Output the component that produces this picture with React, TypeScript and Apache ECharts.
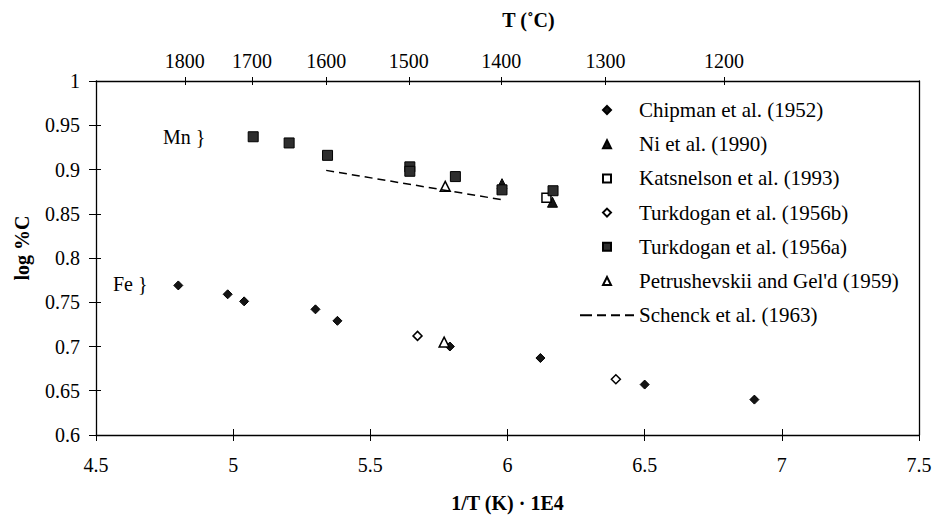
import React, { useEffect, useRef } from "react";
import * as echarts from "echarts";

// ---- data (x = 1/T(K)·1E4, y = log %C) ----
const chipman: number[][] = [
  [4.80, 0.769], [4.98, 0.759], [5.04, 0.751], [5.30, 0.742], [5.38, 0.729],
  [5.79, 0.700], [6.12, 0.687], [6.50, 0.657], [6.90, 0.640],
];
const ni: number[][] = [[5.98, 0.884], [6.164, 0.863]];
const katsnelson: number[][] = [[6.142, 0.868]];
const turkdoganB: number[][] = [[5.672, 0.712], [6.395, 0.663]];
const turkdoganA: number[][] = [
  [5.073, 0.937], [5.204, 0.930], [5.344, 0.916], [5.644, 0.903], [5.644, 0.898],
  [5.81, 0.892], [5.98, 0.877], [6.166, 0.876],
];
const petrushevskii: number[][] = [[5.773, 0.881], [5.769, 0.705]];
const schenck: number[][] = [[5.339, 0.899], [5.977, 0.866]];

const xTicks = { min: 4.5, max: 7.5, interval: 0.5 };
const yTicks = { min: 0.6, max: 1, interval: 0.05 };
const tempTicks: number[] = [1800, 1700, 1600, 1500, 1400, 1300, 1200];

const FONT = "Liberation Serif";

const ICON_DIAMOND = "path://M5,0L10,5L5,10L0,5Z";
const ICON_TRIANGLE = "path://M5,0L10,10L0,10Z";
const ICON_SQUARE = "path://M0,0L10,0L10,10L0,10Z";
const ICON_DASH = "path://M0,0h12v2h-12Z M17,0h9v2h-9Z M31,0h9v2h-9Z M45,0h9v2h-9Z";

export default function App() {
  const ref = useRef<HTMLDivElement>(null);

  useEffect(() => {
    if (!ref.current) return;
    const chart = echarts.init(ref.current, null, { renderer: "svg" });
    const tempPos = tempTicks.map((t) => 1e4 / (t + 273));
    const axisLine = { show: true, lineStyle: { color: "#000", width: 1.3 } };
    const label = { color: "#000", fontFamily: FONT, fontSize: 20 };
    const nameStyle = { color: "#000", fontFamily: FONT, fontSize: 20, fontWeight: "bold" as const };

    const option: any = {
      animation: false,
      backgroundColor: "#fff",
      textStyle: { fontFamily: FONT, color: "#000" },
      grid: { left: 96, right: 16, top: 81, bottom: 82, containLabel: false },
      xAxis: [
        {
          type: "value", position: "bottom", offset: 0, ...xTicks,
          axisLine, splitLine: { show: false },
          axisTick: { show: true, inside: false, length: 6, lineStyle: { color: "#000" } },
          axisLabel: { ...label, margin: 20, formatter: (v: number) => String(+v.toFixed(2)) },
          name: "1/T (K) · 1E4", nameLocation: "middle", nameGap: 58, nameTextStyle: nameStyle,
        },
        {
          type: "value", position: "bottom", offset: 0, ...xTicks,
          axisLine: { show: false }, splitLine: { show: false },
          axisTick: { show: true, inside: true, length: 6, lineStyle: { color: "#000" } },
          axisLabel: { show: false },
        },
        {
          type: "value", position: "top", offset: 0, min: xTicks.min, max: xTicks.max,
          axisLine, splitLine: { show: false },
          axisTick: { show: true, inside: false, length: 4, customValues: tempPos, lineStyle: { color: "#000" } },
          axisLabel: {
            ...label, margin: 10, customValues: tempPos,
            formatter: (v: number) => String(Math.round(1e4 / v - 273)),
          },
          name: "T (˚C)", nameLocation: "middle", nameGap: 51,
          nameTextStyle: { ...nameStyle, padding: [0, 0, 0, 42] },
        },
        {
          type: "value", position: "top", offset: 0, min: xTicks.min, max: xTicks.max,
          axisLine: { show: false }, splitLine: { show: false },
          axisTick: { show: true, inside: true, length: 4, customValues: tempPos, lineStyle: { color: "#000" } },
          axisLabel: { show: false, customValues: tempPos },
        },
      ],
      yAxis: [
        {
          type: "value", position: "left", offset: 0, ...yTicks,
          axisLine, splitLine: { show: false },
          axisTick: { show: true, inside: false, length: 7, lineStyle: { color: "#000" } },
          axisLabel: { ...label, margin: 16, formatter: (v: number) => String(+v.toFixed(2)) },
          name: "log %C", nameLocation: "middle", nameGap: 64,
          nameTextStyle: { ...nameStyle, padding: [0, 0, 0, 20] },
        },
        {
          type: "value", position: "left", offset: 0, ...yTicks,
          axisLine: { show: false }, splitLine: { show: false },
          axisTick: { show: true, inside: true, length: 5, lineStyle: { color: "#000" } },
          axisLabel: { show: false },
        },
        {
          type: "value", position: "right", offset: 0, ...yTicks,
          axisLine, splitLine: { show: false },
          axisTick: { show: false }, axisLabel: { show: false },
        },
      ],
      legend: {
        orient: "vertical",
        left: 575,
        top: 93,
        itemWidth: 54,
        itemHeight: 8,
        itemGap: 10.2,
        symbolKeepAspect: true,
        textStyle: { fontFamily: FONT, fontSize: 21, color: "#000", lineHeight: 24 },
        data: [
          { name: "Chipman et al. (1952)", icon: ICON_DIAMOND },
          { name: "Ni et al. (1990)", icon: ICON_TRIANGLE },
          { name: "Katsnelson et al. (1993)", icon: ICON_SQUARE },
          { name: "Turkdogan et al. (1956b)", icon: ICON_DIAMOND },
          { name: "Turkdogan et al. (1956a)", icon: ICON_SQUARE },
          { name: "Petrushevskii and Gel'd (1959)", icon: ICON_TRIANGLE },
          { name: "Schenck et al. (1963)", icon: ICON_DASH, itemStyle: { color: "#000", borderWidth: 0 } },
        ],
      },
      graphic: [
        { type: "text", left: 163, top: 127, style: { text: "Mn }", fontFamily: FONT, fontSize: 20, fill: "#000" } },
        { type: "text", left: 113, top: 274, style: { text: "Fe }", fontFamily: FONT, fontSize: 20, fill: "#000" } },
      ],
      series: [
        {
          name: "Chipman et al. (1952)", type: "scatter", data: chipman, symbol: "diamond", symbolSize: 9,
          itemStyle: { color: "#141414", borderColor: "#000", borderWidth: 1, opacity: 1 },
        },
        {
          name: "Ni et al. (1990)", type: "scatter", data: ni, symbol: "triangle", symbolSize: 10,
          itemStyle: { color: "#141414", borderColor: "#000", borderWidth: 1, opacity: 1 },
        },
        {
          name: "Katsnelson et al. (1993)", type: "scatter", data: katsnelson, symbol: "rect", symbolSize: 9,
          itemStyle: { color: "#fff", borderColor: "#000", borderWidth: 1.5, opacity: 1 },
        },
        {
          name: "Turkdogan et al. (1956b)", type: "scatter", data: turkdoganB, symbol: "diamond", symbolSize: 9,
          itemStyle: { color: "#fff", borderColor: "#000", borderWidth: 1.5, opacity: 1 },
        },
        {
          name: "Turkdogan et al. (1956a)", type: "scatter", data: turkdoganA, symbol: "rect", symbolSize: 10,
          itemStyle: { color: "#2e2e2e", borderColor: "#000", borderWidth: 1, opacity: 1 },
        },
        {
          name: "Petrushevskii and Gel'd (1959)", type: "scatter", data: petrushevskii, symbol: "triangle", symbolSize: 10,
          itemStyle: { color: "#fff", borderColor: "#000", borderWidth: 1.5, opacity: 1 },
        },
        {
          name: "Schenck et al. (1963)", type: "line", data: schenck, symbol: "none", showSymbol: false,
          lineStyle: { color: "#000", width: 1.5, type: [8, 5] }, itemStyle: { color: "#000" },
        },
      ],
    };
    chart.setOption(option);
    return () => chart.dispose();
  }, []);

  return (
    <div
      ref={ref}
      style={{ position: "fixed", left: 0, top: 0, width: 935, height: 518, background: "#fff" }}
    />
  );
}
